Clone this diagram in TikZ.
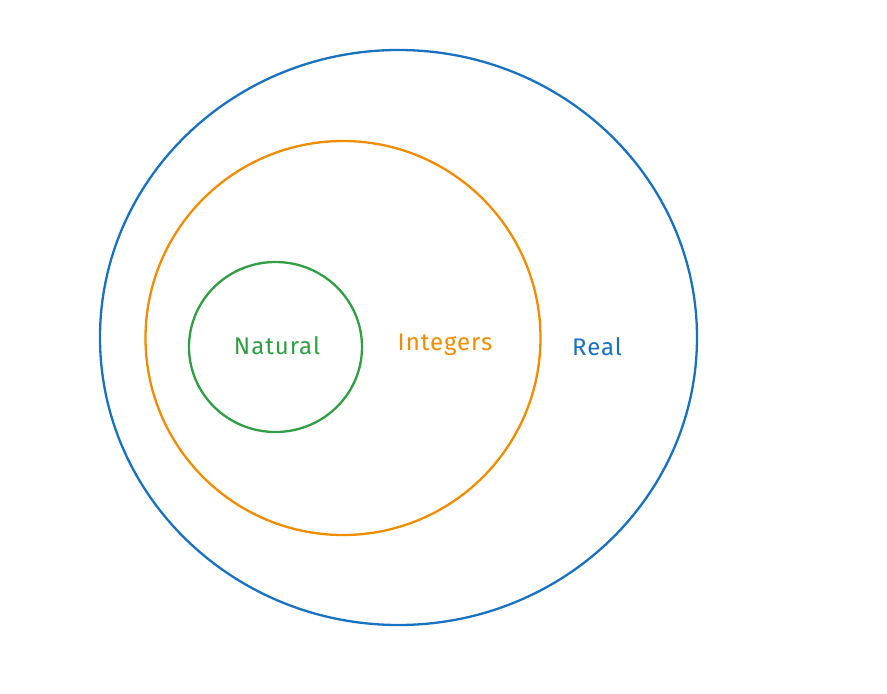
\documentclass[tikz,border=0pt]{standalone}
\usepackage{fontspec}
\setmainfont[LetterSpace=4]{Fira Sans}
\definecolor{realblue}{HTML}{1971C2}
\definecolor{intorange}{HTML}{F08C00}
\definecolor{natgreen}{HTML}{2F9E44}
\tikzset{
  setline/.style={line width=2.3pt, line cap=round},
  setlabel/.style={font=\fontsize{24}{28}\selectfont, inner sep=0pt}
}
\begin{document}
\begin{tikzpicture}[x=1pt,y=-1pt]
        \useasboundingbox (0,0) rectangle (887,694);
        \coordinate (R) at (398.5,337.5);
        \coordinate (I) at (343,338);
        \coordinate (N) at (275.5,347);

        \draw[setline, realblue] (R) ellipse [x radius=298.5, y radius=287.5];
        \draw[setline, intorange] (I) ellipse [x radius=197.5, y radius=197];
        \draw[setline, natgreen] (N) ellipse [x radius=86.5, y radius=85];

        \node[setlabel, text=natgreen] (nat) at (277,346) {Natural};
        \node[setlabel, text=intorange] (int) at (445,345) {Integers};
        \node[setlabel, text=realblue] (real) at (597,347) {Real};
      \end{tikzpicture}
\end{document}
